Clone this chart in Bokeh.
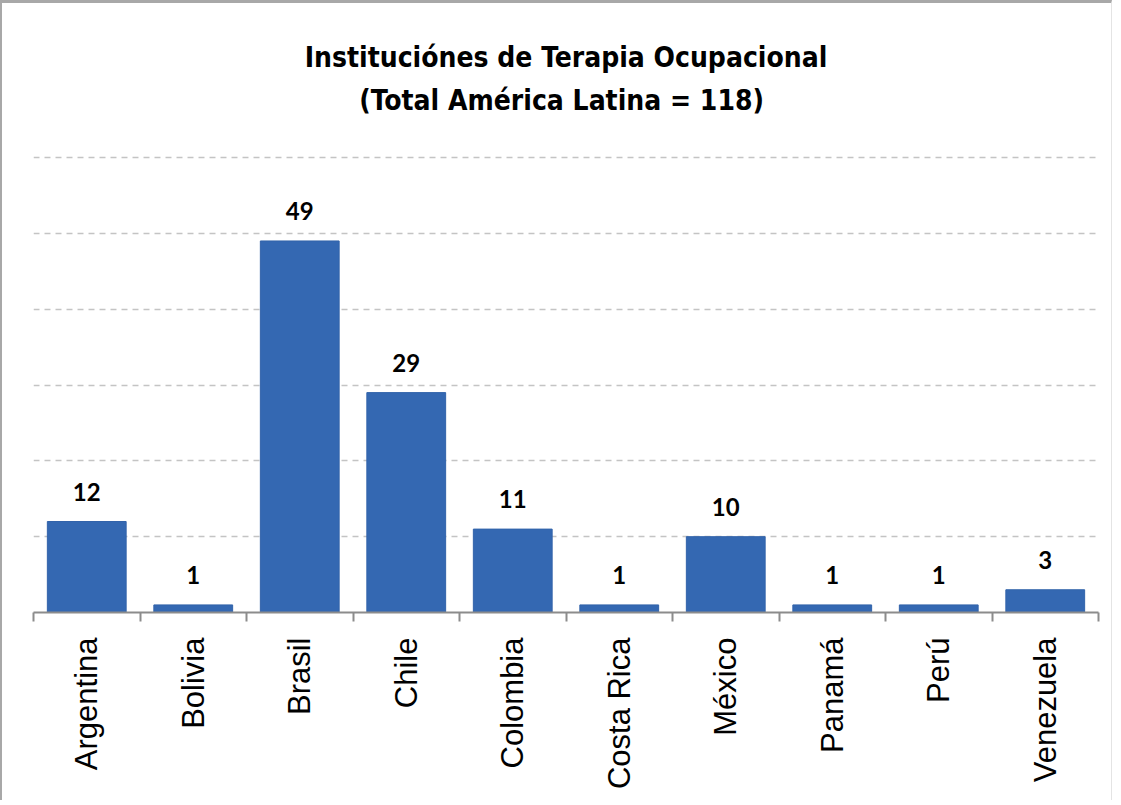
from bokeh.plotting import figure
from bokeh.models import ColumnDataSource, FixedTicker, LabelSet, Label, Range1d
from bokeh.core.properties import value
from bokeh.embed import file_html
from bokeh.resources import INLINE

categories = ["Argentina", "Bolivia", "Brasil", "Chile", "Colombia",
              "Costa Rica", "México", "Panamá", "Perú", "Venezuela"]
values = [12, 1, 49, 29, 11, 1, 10, 1, 1, 3]
grid_ticks = [10, 20, 30, 40, 50, 60]
title_lines = ["Instituciónes de Terapia Ocupacional", "(Total América  Latina = 118)"]

n = len(categories)
centers = [i + 0.5 for i in range(n)]
bounds = list(range(n + 1))

src = ColumnDataSource(dict(x=centers, top=values, label=[str(v) for v in values]))

NARROW = "DejaVu Sans Condensed"

# the plot area extends above the value axis so the two-line title sits inside it
p = figure(frame_width=1065, frame_height=599, output_backend="svg", toolbar_location=None,
           x_range=Range1d(0, n), y_range=Range1d(0, 79.0),
           y_axis_location=None, title=None,
           min_border_left=31, min_border_right=13,
           min_border_top=10, min_border_bottom=188)
p.styles = {"border-top": "3px solid #a8a8a8", "border-left": "2px solid #a8a8a8",
            "border-right": "1px solid #e4e4e4"}
p.outline_line_color = None
p.background_fill_color = "white"
p.border_fill_color = "white"

for txt, ypos in zip(title_lines, [73.2, 67.5]):
    p.add_layout(Label(x=n / 2, y=ypos, text=txt,
                       text_align="center", text_baseline="middle",
                       text_font=NARROW, text_font_style="bold",
                       text_font_size="28px", text_color="black"))

p.vbar(x="x", top="top", bottom=0, width=0.74, source=src,
       fill_color="#3468b2", line_color="#3263aa", line_width=1)

labels = LabelSet(x="x", y="top", text="label", source=src, y_offset=21,
                  text_align="center", text_baseline="alphabetic",
                  text_font=value("Lato"), text_font_style="bold",
                  text_font_size=value("24px"), text_color="black")
p.add_layout(labels)

p.xgrid.visible = False
p.ygrid.ticker = FixedTicker(ticks=grid_ticks)
p.ygrid.grid_line_color = "#c4c4c4"
p.ygrid.grid_line_dash = "6 5"
p.ygrid.grid_line_width = 1.5

ax = p.xaxis[0]
ax.ticker = FixedTicker(ticks=centers, minor_ticks=bounds)
ax.major_label_overrides = {c: lab for c, lab in zip(centers, categories)}
ax.major_label_orientation = 1.5707963267948966
ax.major_tick_line_color = None
ax.major_tick_out = 0
ax.major_tick_in = 0
ax.minor_tick_line_color = "#8c8c8c"
ax.minor_tick_line_width = 2
ax.minor_tick_out = 9
ax.minor_tick_in = 0
ax.axis_line_color = "#8c8c8c"
ax.axis_line_width = 2
ax.major_label_standoff = 16
ax.major_label_text_font = "Liberation Sans"
ax.major_label_text_font_size = "31px"
ax.major_label_text_color = "black"

open("out.html", "w").write(file_html(p, INLINE))
